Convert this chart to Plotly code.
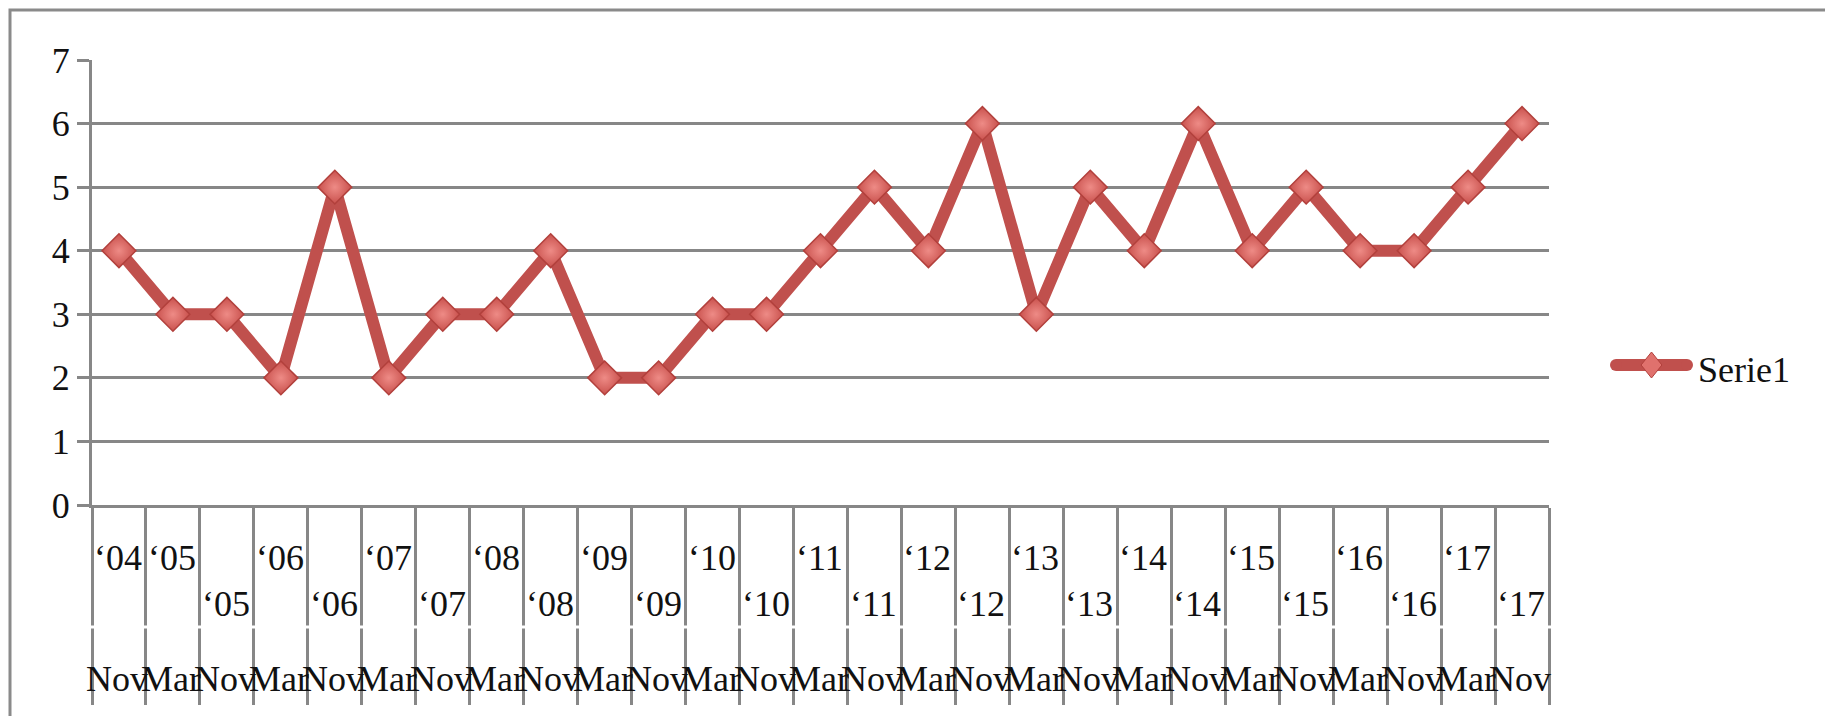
import plotly.graph_objects as go

# ---- data ----
months = ["Nov"] + ["Mar", "Nov"] * 13
years = ["04"] + [f"{y:02d}" for y in range(5, 18) for _ in range(2)]
values = [4, 3, 3, 2, 5, 2, 3, 3, 4, 2, 2, 3, 3, 4, 5, 4, 6, 3, 5, 4, 6, 4, 5, 4, 4, 5, 6]
series_name = "Serie1"
y_ticks = [0, 1, 2, 3, 4, 5, 6, 7]

W, H = 1825, 716
L, R, T, B = 92, 1549, 60, 505  # plot area in pixels
PW, PH = R - L, B - T

def px(x):
    return (x - L) / PW

def py(y):
    return (B - y) / PH

FONT = "Liberation Serif"
GRID = "#878787"
RED = "#C0504D"

fig = go.Figure()
fig.add_trace(go.Scatter(
    x=list(range(len(values))), y=values, mode="lines+markers", name=series_name,
    line=dict(color=RED, width=12),
    marker=dict(symbol="diamond", size=26, color="#C9514D",
                gradient=dict(type="radial", color="#EE8B86"),
                line=dict(color="#B2403C", width=1.5)),
    showlegend=False,
))

fig.update_layout(
    width=W, height=H,
    margin=dict(l=L, r=W - R, t=T, b=H - B),
    paper_bgcolor="white", plot_bgcolor="white",
    font=dict(family=FONT, size=36, color="#111111"),
    showlegend=False,
)
fig.update_xaxes(
    range=[-0.5, len(values) - 0.5],
    tickvals=[i - 0.5 for i in range(len(values) + 1)],
    showticklabels=False, ticks="outside", ticklen=197, tickwidth=3, tickcolor=GRID,
    showgrid=False, showline=True, linecolor=GRID, linewidth=3, zeroline=False,
)
fig.update_yaxes(
    range=[0, 7], tickvals=y_ticks, ticktext=[str(v) for v in y_ticks],
    ticks="outside", ticklen=12, tickwidth=3, tickcolor=GRID,
    showgrid=True, gridcolor=GRID, gridwidth=3,
    showline=True, linecolor=GRID, linewidth=3, zeroline=False,
    tickfont=dict(family=FONT, size=36, color="#111111"),
)

shapes = []
# gap in the category tick marks between the two label levels
shapes.append(dict(type="line", xref="paper", yref="paper",
                   x0=px(80), x1=px(1560), y0=py(627), y1=py(627),
                   line=dict(color="white", width=3), layer="above"))
# outer chart border (extends past the visible area on right/bottom)
shapes.append(dict(type="rect", xref="paper", yref="paper",
                   x0=px(10), x1=px(1900), y0=py(800), y1=py(10),
                   line=dict(color="#8A8A8A", width=3), layer="above"))
# legend symbol: line + diamond
lx0, lx1, ly = 1610, 1693, 365
shapes.append(dict(type="line", xref="paper", yref="paper",
                   x0=px(lx0 + 6), x1=px(lx1 - 6), y0=py(ly), y1=py(ly),
                   line=dict(color=RED, width=12), layer="above"))
for cx in (lx0 + 6, lx1 - 6):
    shapes.append(dict(type="circle", xref="paper", yref="paper",
                       x0=px(cx - 6), x1=px(cx + 6), y0=py(ly + 6), y1=py(ly - 6),
                       fillcolor=RED, line=dict(width=0), layer="above"))
cx = (lx0 + lx1) / 2
d = 13
shapes.append(dict(type="path", xref="paper", yref="paper",
                   path=f"M{px(cx)},{py(ly - d)} L{px(cx + d * 0.8)},{py(ly)} L{px(cx)},{py(ly + d)} L{px(cx - d * 0.8)},{py(ly)} Z",
                   fillcolor="#E0716D", line=dict(color="#B2403C", width=1), layer="above"))
fig.update_layout(shapes=shapes)

annotations = []
for i, (m, y) in enumerate(zip(months, years)):
    row_y = 558 if (i == 0 or m == "Mar") else 604
    annotations.append(dict(x=i, y=py(row_y), xref="x", yref="paper", text=f"\u2018{y}",
                            showarrow=False, xanchor="center", yanchor="middle", xshift=-1,
                            font=dict(family=FONT, size=36, color="#111111")))
    annotations.append(dict(x=i, y=py(679), xref="x", yref="paper", text=m,
                            showarrow=False, xanchor="center", yanchor="middle", xshift=-2,
                            font=dict(family=FONT, size=36, color="#111111")))
annotations.append(dict(x=px(1696), y=py(370), xref="paper", yref="paper", text=series_name,
                        showarrow=False, xanchor="left", yanchor="middle",
                        font=dict(family=FONT, size=36, color="#111111")))
fig.update_layout(annotations=annotations)

fig.write_html("out.html")
